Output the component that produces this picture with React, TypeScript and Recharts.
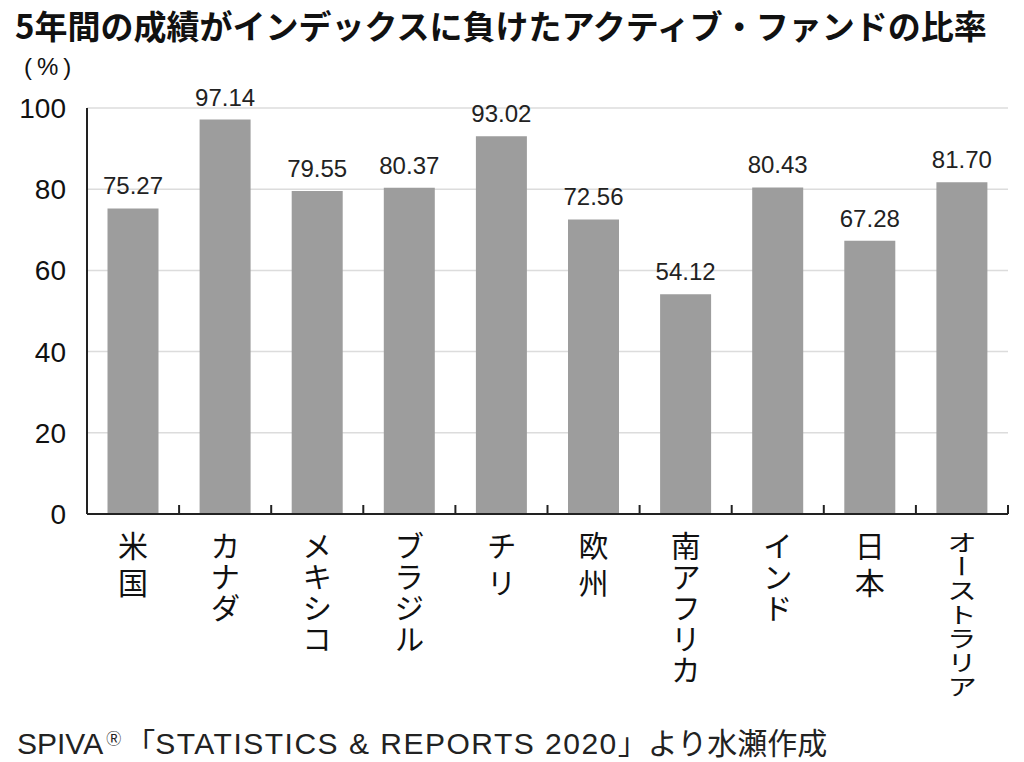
import React from 'react';
import { BarChart, Bar, XAxis, YAxis, CartesianGrid, LabelList } from 'recharts';

const categories = ['米国', 'カナダ', 'メキシコ', 'ブラジル', 'チリ', '欧州', '南アフリカ', 'インド', '日本', 'オーストラリア'];
const values = [75.27, 97.14, 79.55, 80.37, 93.02, 72.56, 54.12, 80.43, 67.28, 81.7];
const yTicks = [0, 20, 40, 60, 80, 100];

const data = categories.map((name, i) => ({ name, value: values[i] }));

const W = 1024;
const H = 762;
const PLOT_LEFT = 87;
const PLOT_RIGHT = 1008;
const PLOT_TOP = 108;
const PLOT_BOTTOM = 514;
const BAND = (PLOT_RIGHT - PLOT_LEFT) / categories.length;

const NUM_FONT = '"Liberation Sans", Arial, Helvetica, sans-serif';
const JP_FONT = '"Noto Sans CJK JP", "Noto Sans", sans-serif';

function XTick(props: any) {
  const { x, y, payload } = props;
  const label = String(payload.value);
  const n = Array.from(label).length;
  const long = n >= 7;
  const spacing = long ? 1 : n <= 2 ? 7 : 1;
  const top = y + 17;
  const transform = long ? `translate(${x},${top}) scale(1,0.77) translate(${-x},${-top})` : undefined;
  return (
    <g>
      <line x1={x + BAND / 2} x2={x + BAND / 2} y1={y} y2={y - 9} stroke="#222" strokeWidth={2} />
      <text
        x={x}
        y={top}
        fontFamily={JP_FONT}
        fontSize={30}
        fill="#111"
        letterSpacing={spacing}
        transform={transform}
        style={{ writingMode: 'vertical-rl' as any }}
      >
        {label}
      </text>
    </g>
  );
}

export default function App() {
  return (
    <div style={{ position: 'absolute', left: 0, top: 0, width: W, height: H, background: '#fff', overflow: 'hidden' }}>
      <div
        style={{
          position: 'absolute',
          left: 15,
          top: 8,
          fontFamily: JP_FONT,
          fontWeight: 700,
          fontSize: 33,
          lineHeight: '34px',
          color: '#111',
          whiteSpace: 'nowrap',
        }}
      >
        5年間の成績がインデックスに負けたアクティブ・ファンドの比率
      </div>
      <div
        style={{
          position: 'absolute',
          left: 24,
          top: 55,
          fontFamily: NUM_FONT,
          fontSize: 24,
          lineHeight: '24px',
          letterSpacing: 5,
          color: '#111',
          whiteSpace: 'nowrap',
        }}
      >
        (%)
      </div>
      <BarChart
        width={W}
        height={H}
        data={data}
        margin={{ top: PLOT_TOP, right: W - PLOT_RIGHT, left: 0, bottom: 28 }}
        barCategoryGap={20.5}
      >
        <CartesianGrid horizontal vertical={false} stroke="#dcdcdc" strokeWidth={1.5} />
        <XAxis
          dataKey="name"
          interval={0}
          height={H - PLOT_BOTTOM - 28}
          axisLine={{ stroke: '#222', strokeWidth: 2 }}
          tickLine={false}
          tickSize={0}
          tickMargin={0}
          tick={<XTick />}
        />
        <YAxis
          width={PLOT_LEFT}
          domain={[0, 100]}
          ticks={yTicks}
          axisLine={{ stroke: '#222', strokeWidth: 2 }}
          tickLine={false}
          tickSize={0}
          tickMargin={21}
          tick={{ fontFamily: NUM_FONT, fontSize: 28, fill: '#111' }}
        />
        <Bar dataKey="value" fill="#9d9d9d" isAnimationActive={false}>
          <LabelList
            dataKey="value"
            position="top"
            offset={14}
            formatter={(v: any) => Number(v).toFixed(2)}
            style={{ fontFamily: NUM_FONT, fontSize: 24, fill: '#222' }}
          />
        </Bar>
      </BarChart>
      <div
        style={{
          position: 'absolute',
          left: 17,
          top: 723,
          fontFamily: `"Liberation Sans", ${JP_FONT}`,
          fontSize: 30,
          lineHeight: '36px',
          color: '#222',
          whiteSpace: 'nowrap',
        }}
      >
        SPIVA<sup style={{ fontSize: 15, verticalAlign: 'top', position: 'relative', top: -2, marginLeft: 3, marginRight: 4 }}>Ⓡ</sup>
        <span style={{ fontFamily: JP_FONT }}>「</span>
        <span style={{ letterSpacing: 1.5 }}>STATISTICS &amp; REPORTS 2020</span>
        <span style={{ fontFamily: JP_FONT }}>」より水瀬作成</span>
      </div>
    </div>
  );
}
